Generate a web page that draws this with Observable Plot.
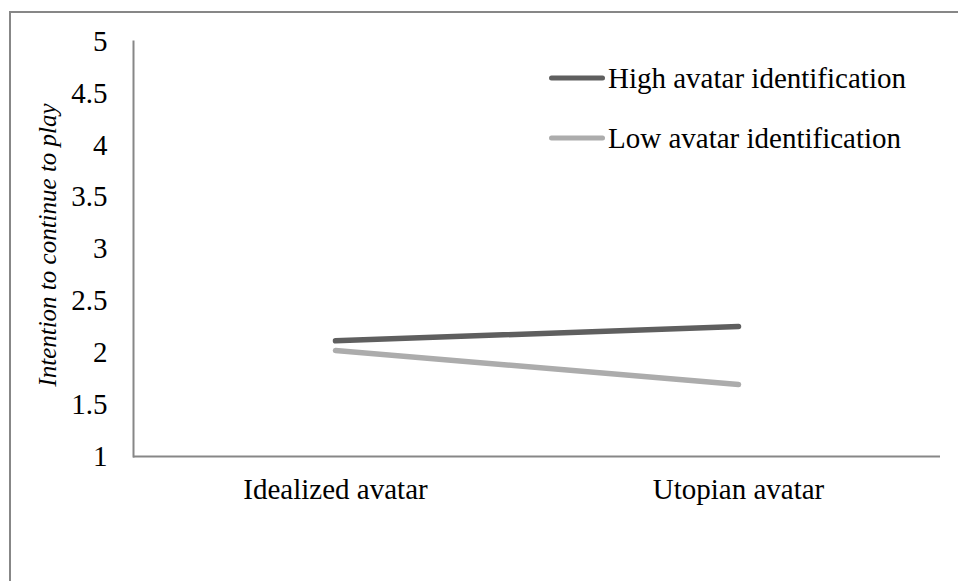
<!DOCTYPE html>
<html><head><meta charset="utf-8">
<script src="https://cdn.jsdelivr.net/npm/d3@7"></script>
<script src="https://cdn.jsdelivr.net/npm/@observablehq/plot@0.6"></script>
<style>
html,body{margin:0;padding:0;background:#fff;overflow:hidden;width:958px;height:581px;}
#wrap{position:relative;width:958px;height:581px;overflow:hidden;font-family:"Liberation Serif","Times New Roman",serif;color:#000;}
#border{position:absolute;left:9px;top:11px;width:1000px;height:700px;border:2px solid #878787;box-sizing:border-box;}
#chart{position:absolute;left:0;top:0;}
#ytitle{position:absolute;left:48px;top:245px;transform:translate(-50%,-50%) rotate(-90deg);font-style:italic;font-size:25px;white-space:nowrap;}
.legend-item{position:absolute;left:549px;display:flex;align-items:center;font-size:29px;white-space:nowrap;transform:translateY(-50%);}
.swatch{width:56px;height:5.5px;border-radius:3px;margin-right:3px;}
</style></head><body>
<div id="wrap"><div id="border"></div><div id="chart"></div><div id="ytitle"></div><div id="legend"></div></div>
<script>
const categories = ["Idealized avatar", "Utopian avatar"];
const highValues = [2.115, 2.253];
const lowValues = [2.022, 1.694];
const seriesNames = ["High avatar identification", "Low avatar identification"];
const seriesColors = ["#5f5f5f", "#acacac"];
const yTicks = [1, 1.5, 2, 2.5, 3, 3.5, 4, 4.5, 5];
const yTitle = "Intention to continue to play";

const data = [
  ...categories.map((c, i) => ({category: c, value: highValues[i], series: seriesNames[0]})),
  ...categories.map((c, i) => ({category: c, value: lowValues[i], series: seriesNames[1]}))
];

const chart = Plot.plot({
  width: 958, height: 581,
  marginLeft: 133, marginRight: 18, marginTop: 41, marginBottom: 125,
  style: {fontFamily: "'Liberation Serif', 'Times New Roman', serif", fontSize: "29px", color: "#000", background: "transparent"},
  x: {type: "point", domain: categories, padding: 0.5},
  y: {domain: [1, 5]},
  color: {domain: seriesNames, range: seriesColors},
  marks: [
    Plot.frame({anchor: "left", stroke: "#878787", strokeWidth: 2}),
    Plot.ruleY([1], {stroke: "#878787", strokeWidth: 2}),
    Plot.axisY({ticks: yTicks, tickSize: 0, tickPadding: 26, label: null, tickFormat: d => String(d)}),
    Plot.axisX({tickSize: 0, tickPadding: 22, label: null}),
    Plot.line(data, {x: "category", y: "value", z: "series", stroke: "series", strokeWidth: 5.5, strokeLinecap: "round"})
  ]
});
document.getElementById("chart").appendChild(chart);
document.getElementById("ytitle").textContent = yTitle;

const legend = document.getElementById("legend");
const legendY = [78, 138];
seriesNames.forEach((name, i) => {
  const item = document.createElement("div");
  item.className = "legend-item";
  item.style.top = legendY[i] + "px";
  const sw = document.createElement("div");
  sw.className = "swatch";
  sw.style.background = seriesColors[i];
  const label = document.createElement("span");
  label.textContent = name;
  item.appendChild(sw);
  item.appendChild(label);
  legend.appendChild(item);
});
</script>
</body></html>
